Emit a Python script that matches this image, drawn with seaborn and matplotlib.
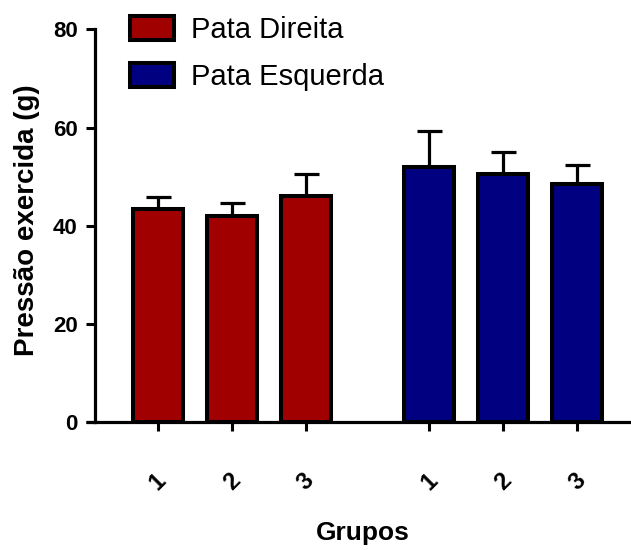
import matplotlib
matplotlib.use("Agg")
import matplotlib.pyplot as plt
from matplotlib.patches import Patch
import numpy as np
import pandas as pd
import seaborn as sns

# Data
groups = ["1", "2", "3", "1", "2", "3"]
sides = ["Pata Direita"] * 3 + ["Pata Esquerda"] * 3
pressure = [43.5, 42.0, 46.0, 52.0, 50.6, 48.6]
sem = [2.3, 2.6, 4.5, 7.3, 4.4, 3.8]
positions = [0, 1, 2, 3.667, 4.667, 5.667]
y_ticks = [0, 20, 40, 60, 80]
side_names = ["Pata Direita", "Pata Esquerda"]
side_colors = ["#A00000", "#000080"]

df = pd.DataFrame({"pos": positions, "valor": pressure, "pata": sides})

sns.set_style("ticks")
plt.rcParams["font.family"] = ["Liberation Sans", "DejaVu Sans"]
plt.rcParams["text.color"] = "black"
plt.rcParams["axes.labelcolor"] = "black"
plt.rcParams["xtick.color"] = "black"
plt.rcParams["ytick.color"] = "black"

fig = plt.figure(figsize=(6.31, 5.5), dpi=100)
ax = fig.add_axes([0.1506, 0.2322, 0.8494, 0.7142])

sns.barplot(data=df, x="pos", y="valor", hue="pata", hue_order=side_names,
            palette=side_colors, native_scale=True, dodge=False, width=0.68,
            edgecolor="black", linewidth=2.9, errorbar=None, legend=False,
            saturation=1, ax=ax)

ax.errorbar(positions, pressure, yerr=[np.zeros(len(sem)), sem], fmt="none",
            ecolor="black", elinewidth=2.3, capsize=9, capthick=2.3, zorder=0.5)

ax.set_xlim(-0.85, 6.393)
ax.set_ylim(0, 80)
ax.tick_params(axis="both", width=2.2, length=6.5, color="black",
               labelcolor="black")
ax.tick_params(axis="y", pad=6)
ax.tick_params(axis="x", pad=27)
ax.set_yticks(y_ticks, labels=[str(v) for v in y_ticks],
              fontsize=16, fontweight="bold")
ax.set_xticks(positions, labels=groups, rotation=45,
              fontsize=17, fontweight="bold")

for side in ["left", "bottom"]:
    ax.spines[side].set_linewidth(2.3)
    ax.spines[side].set_color("black")
sns.despine(ax=ax)

# x axis line runs slightly past the y axis on the left
ax.plot([-9 / 536, 0], [0, 0], transform=ax.transAxes, color="black",
        lw=2.3, clip_on=False, solid_capstyle="butt")

ax.set_ylabel("Pressão exercida (g)", fontsize=20, fontweight="bold",
              color="black")
ax.yaxis.set_label_coords(-0.102, 0.515)
ax.set_xlabel("Grupos", fontsize=19, fontweight="bold", color="black")
ax.xaxis.set_label_coords(0.5, -0.252)

handles = [Patch(facecolor=c, edgecolor="black", linewidth=2.9) for c in side_colors]
leg = ax.legend(handles, side_names, loc="upper left", bbox_to_anchor=(0.065, 1.035),
                frameon=False, fontsize=21, handlelength=1.5, handleheight=0.9,
                handletextpad=0.6, labelspacing=0.65, borderpad=0, borderaxespad=0)
for t in leg.get_texts():
    t.set_color("black")

fig.savefig("out.png", dpi=100)
